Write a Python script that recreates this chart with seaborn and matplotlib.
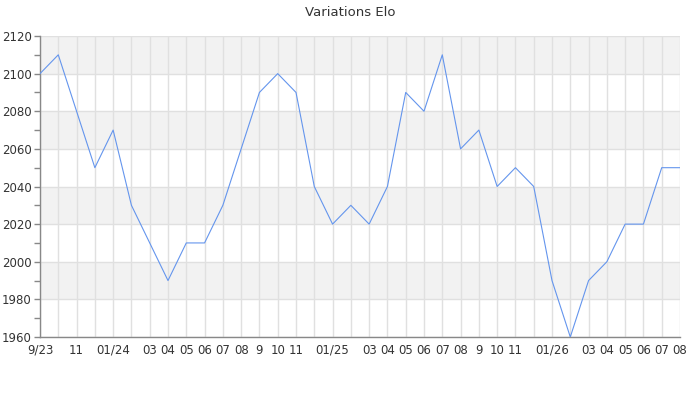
import pandas as pd
import matplotlib.pyplot as plt
import seaborn as sns
from matplotlib.ticker import MultipleLocator

# monthly points from 09/2023 to 08/2026
months = ['09/23', '10/23', '11/23', '12/23',
          '01/24', '02/24', '03/24', '04/24', '05/24', '06/24', '07/24', '08/24',
          '09/24', '10/24', '11/24', '12/24',
          '01/25', '02/25', '03/25', '04/25', '05/25', '06/25', '07/25', '08/25',
          '09/25', '10/25', '11/25', '12/25',
          '01/26', '02/26', '03/26', '04/26', '05/26', '06/26', '07/26', '08/26']
elo = [2100, 2110, 2080, 2050,
       2070, 2030, 2010, 1990, 2010, 2010, 2030, 2060,
       2090, 2100, 2090, 2040,
       2020, 2030, 2020, 2040, 2090, 2080, 2110, 2060,
       2070, 2040, 2050, 2040,
       1990, 1960, 1990, 2000, 2020, 2020, 2050, 2050]
tick_labels = ['9/23', '', '11', '',
               '01/24', '', '03', '04', '05', '06', '07', '08',
               '9', '10', '11', '',
               '01/25', '', '03', '04', '05', '06', '07', '08',
               '9', '10', '11', '',
               '01/26', '', '03', '04', '05', '06', '07', '08']

df = pd.DataFrame({'idx': range(len(months)), 'elo': elo})

sns.set_style("white")
plt.rcParams['font.family'] = ['DejaVu Sans']

fig = plt.figure(figsize=(7, 4), dpi=100)
ax = fig.add_axes([40/700, 1-337/400, 640/700, 301/400])

# alternating horizontal bands
for lo in range(1980, 2120, 40):
    ax.axhspan(lo, lo + 20, color='#f2f2f2', zorder=0, lw=0)

sns.lineplot(data=df, x='idx', y='elo', color='#6495ed', linewidth=0.8, ax=ax, zorder=3)

ax.set_xlim(0, len(months) - 1)
ax.set_ylim(1960, 2120)
ax.set_xticks(df['idx'])
ax.set_xticklabels(tick_labels)
ax.yaxis.set_major_locator(MultipleLocator(20))
ax.yaxis.set_minor_locator(MultipleLocator(10))

ax.grid(True, which='major', color='#e0e0e0', linewidth=1, zorder=1)
ax.set_axisbelow(True)

ax.tick_params(axis='x', length=0, labelsize=8.5, colors='#333333', pad=5)
ax.tick_params(axis='y', which='both', length=4, width=1, color='#888888',
               labelsize=8.5, labelcolor='#333333', left=True, pad=2)

for s in ['top', 'right']:
    ax.spines[s].set_visible(False)
for s in ['left', 'bottom']:
    ax.spines[s].set_color('#888888')
    ax.spines[s].set_linewidth(1)

ax.set_xlabel('')
ax.set_ylabel('')
fig.suptitle('Variations Elo', y=0.985, fontsize=9.5, color='#333333')

fig.savefig('out.png', dpi=100)
